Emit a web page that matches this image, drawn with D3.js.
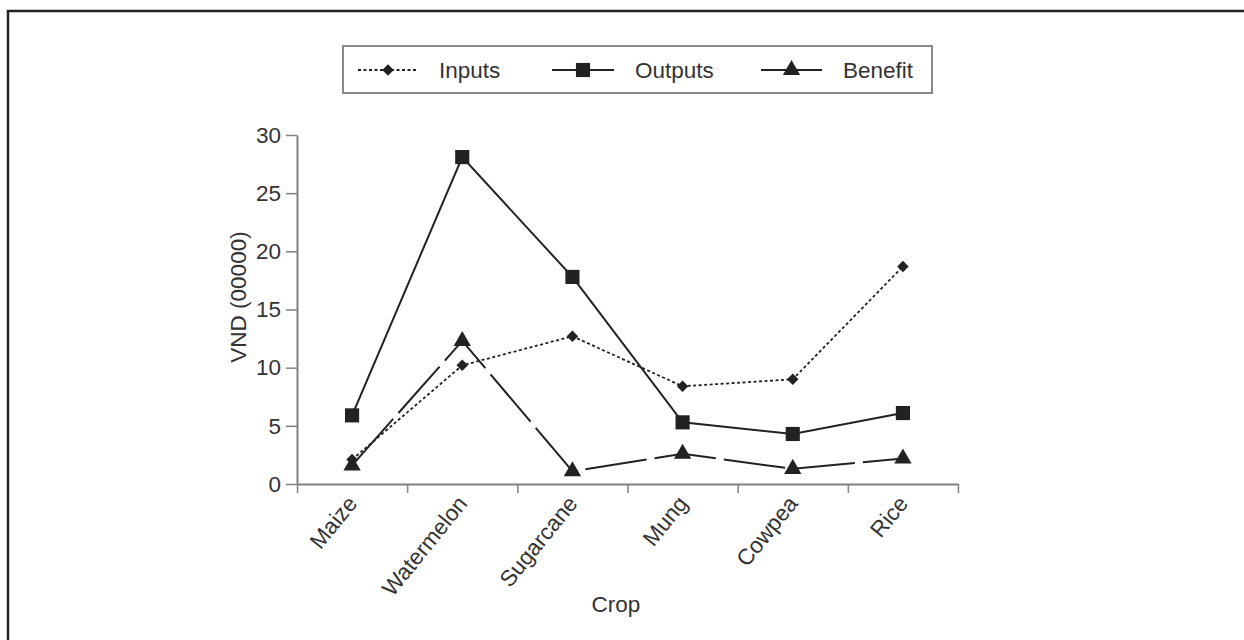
<!DOCTYPE html>
<html>
<head>
<meta charset="utf-8">
<script src="https://cdn.jsdelivr.net/npm/d3@7"></script>
<style>
  html, body { margin: 0; padding: 0; background: #fff; }
  svg { display: block; }
  text { font-family: "Liberation Sans", Arial, Helvetica, sans-serif; fill: #333; }
</style>
</head>
<body>
<svg id="chart" width="1244" height="640"></svg>
<script>
// ---- data ----
const crops = ["Maize", "Watermelon", "Sugarcane", "Mung", "Cowpea", "Rice"];
const inputs = [2.1, 10.2, 12.7, 8.4, 9.0, 18.7];
const outputs = [5.9, 28.1, 17.8, 5.3, 4.3, 6.1];
const benefit = [1.6, 12.3, 1.1, 2.6, 1.3, 2.2];
const seriesNames = ["Inputs", "Outputs", "Benefit"];
const yTicks = [0, 5, 10, 15, 20, 25, 30];
const xTitle = "Crop";
const yTitle = "VND (00000)";

// ---- layout ----
const svg = d3.select("#chart");
const plot = { left: 297, right: 958, top: 135, bottom: 484 };
const fs = 22.5;
const axisColor = "#808080";
const ink = "#222";

// outer frame (top and left edges visible)
svg.append("path")
  .attr("d", d3.line()([[8, 640], [8, 11], [1244, 11]]))
  .attr("fill", "none").attr("stroke", ink).attr("stroke-width", 2.5);

const x = d3.scaleBand().domain(crops).range([plot.left, plot.right]).padding(0);
const xEdge = d3.scaleLinear().domain([0, crops.length]).range([plot.left, plot.right]);
const y = d3.scaleLinear().domain([0, 30]).range([plot.bottom, plot.top]);

// y axis
const gy = svg.append("g").attr("transform", `translate(${plot.left},0)`)
  .call(d3.axisLeft(y).tickValues(yTicks).tickSize(11).tickPadding(5).tickSizeOuter(0));
gy.select(".domain").attr("stroke", axisColor).attr("stroke-width", 2);
gy.selectAll(".tick line").attr("stroke", axisColor).attr("stroke-width", 1.5);
gy.selectAll(".tick text").attr("font-size", fs).attr("fill", "#333")
  .attr("font-family", "Liberation Sans, Arial, sans-serif");

// x axis (ticks at category boundaries)
const gx = svg.append("g").attr("transform", `translate(0,${plot.bottom})`)
  .call(d3.axisBottom(xEdge).tickValues(d3.range(crops.length + 1)).tickSize(9).tickFormat("").tickSizeOuter(0));
gx.select(".domain").attr("stroke", axisColor).attr("stroke-width", 2);
gx.selectAll(".tick line").attr("stroke", axisColor).attr("stroke-width", 1.5);

// x labels, rotated
svg.append("g").selectAll("text").data(crops).join("text")
  .attr("transform", d => `translate(${x(d) + x.bandwidth() / 2 - 6},${plot.bottom + 10}) rotate(-51)`)
  .attr("text-anchor", "end")
  .attr("dy", "0.7em")
  .attr("font-size", fs)
  .text(d => d);

// axis titles
svg.append("text").attr("x", 616).attr("y", 612).attr("text-anchor", "middle")
  .attr("font-size", fs).text(xTitle);
svg.append("text").attr("transform", `translate(246,297) rotate(-90)`)
  .attr("text-anchor", "middle").attr("font-size", fs).text(yTitle);

// series
const cx = (i) => x(crops[i]) + x.bandwidth() / 2;
const line = d3.line().x((d, i) => cx(i)).y(d => y(d));

const series = [
  { name: seriesNames[0], values: inputs, dash: "3,2.5", width: 1.8, symbol: "diamond" },
  { name: seriesNames[1], values: outputs, dash: null, width: 2, symbol: "square" },
  { name: seriesNames[2], values: benefit, dash: "62,8", width: 2, symbol: "triangle" }
];

function drawSymbol(g, type, px, py) {
  if (type === "square") {
    g.append("path").attr("d", d3.symbol(d3.symbolSquare, 200)())
      .attr("transform", `translate(${px},${py})`).attr("fill", ink);
  } else if (type === "diamond") {
    g.append("path").attr("d", d3.symbol(d3.symbolSquare, 66)())
      .attr("transform", `translate(${px},${py}) rotate(45)`).attr("fill", ink);
  } else {
    g.append("path").attr("d", d3.symbol(d3.symbolTriangle, 130)())
      .attr("transform", `translate(${px},${py})`).attr("fill", ink);
  }
}

series.forEach(s => {
  svg.append("path").datum(s.values)
    .attr("d", line)
    .attr("fill", "none")
    .attr("stroke", ink)
    .attr("stroke-width", s.width)
    .attr("stroke-dasharray", s.dash);
});
series.forEach(s => {
  const g = svg.append("g");
  s.values.forEach((v, i) => drawSymbol(g, s.symbol, cx(i), y(v)));
});

// legend
const lg = svg.append("g");
lg.append("rect").attr("x", 343).attr("y", 46).attr("width", 589).attr("height", 47)
  .attr("fill", "#fff").attr("stroke", "#8a8a8a").attr("stroke-width", 2);
const legendItems = [
  { s: series[0], x0: 358, x1: 418, tx: 439 },
  { s: series[1], x0: 552, x1: 614, tx: 635 },
  { s: series[2], x0: 761, x1: 822, tx: 843 }
];
const ly = 70;
legendItems.forEach(it => {
  lg.append("line").attr("x1", it.x0).attr("x2", it.x1).attr("y1", ly).attr("y2", ly)
    .attr("stroke", ink).attr("stroke-width", it.s.width)
    .attr("stroke-dasharray", it.s.symbol === "diamond" ? it.s.dash : null);
  drawSymbol(lg, it.s.symbol, (it.x0 + it.x1) / 2, ly);
  lg.append("text").attr("x", it.tx).attr("y", ly).attr("dy", "0.35em")
    .attr("font-size", fs).text(it.s.name);
});
</script>
</body>
</html>
